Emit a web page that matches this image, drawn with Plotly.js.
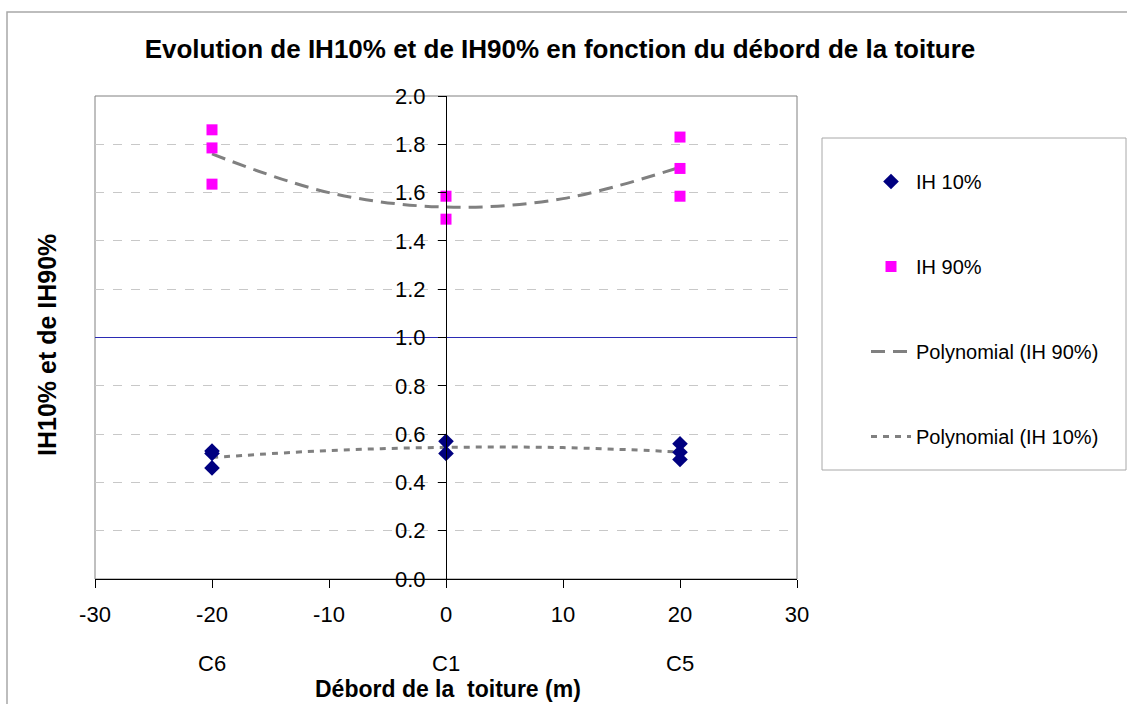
<!DOCTYPE html>
<html><head><meta charset="utf-8">
<script src="https://cdn.plot.ly/plotly-3.0.1.min.js"></script>
<style>html,body{margin:0;padding:0;background:#fff}#chart{width:1127px;height:704px}</style>
</head><body><div id="chart"></div>
<script>
// Data
const ih10X = [-20, -20, -20, 0, 0, 20, 20, 20];
const ih10Y = [0.53, 0.52, 0.46, 0.57, 0.52, 0.56, 0.525, 0.495];
const ih90X = [-20, -20, -20, 0, 0, 20, 20, 20];
const ih90Y = [1.86, 1.785, 1.635, 1.585, 1.49, 1.83, 1.70, 1.585];
const trendX = [-20, -10, 0, 10, 20];
const trend90Y = [1.76, 1.60, 1.54, 1.575, 1.705];
const trend10Y = [0.503, 0.532, 0.545, 0.544, 0.526];
const refX = [-30, 30];
const refY = [1.0, 1.0];
const catPos = [-20, 0, 20];
const catLabels = ['C6', 'C1', 'C5'];
const xTicks = [-30, -20, -10, 0, 10, 20, 30];
const yTicks = [0, 0.2, 0.4, 0.6, 0.8, 1.0, 1.2, 1.4, 1.6, 1.8, 2.0];

const FONT = '"Liberation Sans", Arial, sans-serif';
const L = 95, R = 797, T = 96, B = 579;
const W = R - L, H = B - T;
const px = p => (p - L) / W;
const py = q => (B - q) / H;

const traces = [
  {x: refX, y: refY, mode: 'lines', line: {color: '#2b2bb4', width: 1.2}, showlegend: false, hoverinfo: 'skip'},
  {x: trendX, y: trend90Y, mode: 'lines', name: 'Polynomial (IH 90%)', line: {color: '#808080', width: 3, dash: '14px,8px', shape: 'spline'}, legendgroup: 'c', legendrank: 3},
  {x: trendX, y: trend10Y, mode: 'lines', name: 'Polynomial (IH 10%)', line: {color: '#808080', width: 3, dash: '6px,6px', shape: 'spline'}, legendgroup: 'd', legendrank: 4},
  {x: ih10X, y: ih10Y, mode: 'markers', name: 'IH 10%', marker: {symbol: 'diamond', color: '#000080', size: 12}, legendgroup: 'a', legendrank: 1},
  {x: ih90X, y: ih90Y, mode: 'markers', name: 'IH 90%', marker: {symbol: 'square', color: '#FF00FF', size: 11}, legendgroup: 'b', legendrank: 2}
];

const annotations = catPos.map((c, i) => ({
  x: c, xref: 'x', y: py(663), yref: 'paper', text: catLabels[i], showarrow: false,
  font: {family: FONT, size: 22, color: '#000'}, xanchor: 'center', yanchor: 'middle'
}));
annotations.push({x: px(448), xref: 'paper', y: py(689), yref: 'paper', text: '<b>Débord de la  toiture (m)</b>', showarrow: false,
  font: {family: FONT, size: 23, color: '#000'}, xanchor: 'center', yanchor: 'middle'});
annotations.push({x: px(47), xref: 'paper', y: py(345), yref: 'paper', text: '<b>IH10% et de IH90%</b>', showarrow: false, textangle: -90,
  font: {family: FONT, size: 25, color: '#000'}, xanchor: 'center', yanchor: 'middle'});

const shapes = [
  {type: 'rect', xref: 'paper', yref: 'paper', x0: px(7), x1: px(1140), y0: py(12), y1: py(720), line: {color: '#a8a8a8', width: 1.5}, fillcolor: 'rgba(0,0,0,0)', layer: 'below'},
  {type: 'rect', xref: 'paper', yref: 'paper', x0: 0, x1: 1, y0: 0, y1: 1, line: {color: '#808080', width: 1}, fillcolor: 'rgba(0,0,0,0)', layer: 'below'},
  {type: 'rect', xref: 'paper', yref: 'paper', x0: px(822), x1: px(1126), y0: py(138), y1: py(470), line: {color: '#a8a8a8', width: 1}, fillcolor: 'rgba(0,0,0,0)'}
];

const layout = {
  width: 1127, height: 704,
  margin: {l: L, r: 1127 - R, t: T, b: 704 - B, pad: 0},
  paper_bgcolor: '#fff', plot_bgcolor: '#fff',
  font: {family: FONT, color: '#000'},
  title: {text: '<b>Evolution de IH10% et de IH90% en fonction du débord de la toiture</b>', font: {family: FONT, size: 26, color: '#000'},
    x: px(560), xanchor: 'center', y: 1 - 49 / 704, yanchor: 'middle', xref: 'paper'},
  xaxis: {range: [-30, 30], tickvals: xTicks, ticktext: xTicks.map(String), showgrid: false, zeroline: false,
    showline: true, linecolor: '#000', linewidth: 1, ticks: 'outside', ticklen: 8, tickcolor: '#000',
    tickfont: {family: FONT, size: 22, color: '#000'}, ticklabelstandoff: 8, fixedrange: true},
  yaxis: {range: [0, 2.0], tickvals: yTicks, ticktext: yTicks.map(v => v.toFixed(1)), anchor: 'free', position: 0.5,
    showgrid: true, gridcolor: '#c8c8c8', griddash: 'dash', gridwidth: 1, zeroline: false,
    showline: true, linecolor: '#000', linewidth: 1, ticks: 'outside', ticklen: 8, tickcolor: '#000',
    tickfont: {family: FONT, size: 22, color: '#000'}, ticklabelstandoff: 8, fixedrange: true},
  showlegend: true,
  legend: {x: px(866), xanchor: 'left', y: py(162), yanchor: 'top', bgcolor: 'rgba(0,0,0,0)', borderwidth: 0,
    traceorder: 'grouped', tracegroupgap: 56, font: {family: FONT, size: 20, color: '#000'}, itemwidth: 40},
  annotations: annotations,
  shapes: shapes
};

Plotly.newPlot('chart', traces, layout, {displayModeBar: false, staticPlot: true});
</script>
</body></html>
